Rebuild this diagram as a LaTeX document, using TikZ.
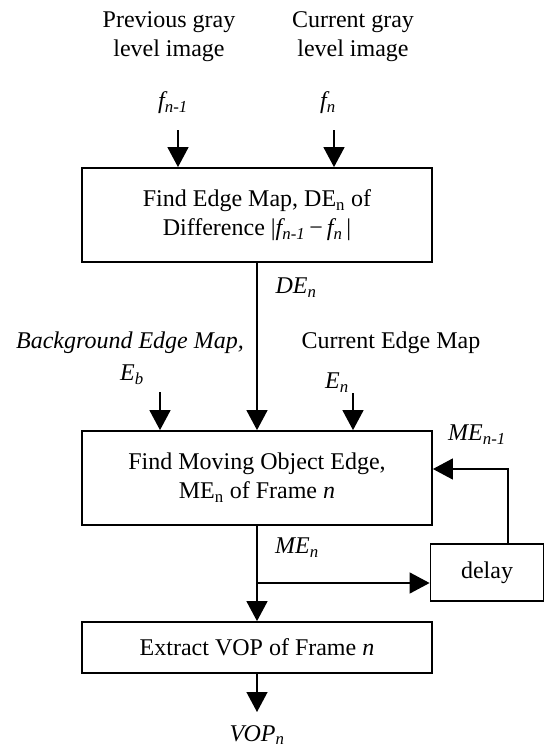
\documentclass[tikz,border=0pt]{standalone}
\usepackage{fontspec}
\setmainfont{Liberation Serif}
\usetikzlibrary{arrows.meta}
\newcommand{\sbs}[1]{\textsubscript{#1}}
\begin{document}
\begin{tikzpicture}[x=1pt,y=-1pt,
  font=\fontsize{24}{29}\selectfont,
  box/.style={draw, line width=1.8pt, inner sep=0pt, align=center},
  lbl/.style={inner sep=0pt, align=center},
  arr/.style={line width=1.4pt, -{Triangle[length=20pt,width=21pt]}},
  ln/.style={line width=1.4pt}]
\useasboundingbox (0,0) rectangle (545,747);
% top labels
\node[lbl] (prev) at (169,37) {Previous gray\\level image};
\node[lbl] (cur) at (353,37) {Current gray\\level image};
\node[lbl] (fprev) at (173,103) {\textit{f\sbs{n-1}}};
\node[lbl] (fcur) at (328,103) {\textit{f\sbs{n}}};
% boxes
\node[box, minimum width=350pt, minimum height=94pt] (b1) at (257,215)
  {Find Edge Map, DE\sbs{n} of\\Difference |\textit{f\sbs{n-1}}\,−\,\textit{f\sbs{n}}\,|};
\node[box, minimum width=350pt, minimum height=94pt] (b2) at (257,478)
  {Find Moving Object Edge,\\ME\sbs{n} of Frame \textit{n}};
\node[box, minimum width=113pt, minimum height=57pt] (dl) at (487,572.5) {delay};
\node[box, minimum width=350pt, minimum height=51pt] (b3) at (257,647.5)
  {Extract VOP of Frame \textit{n}};
% inputs to box 1
\coordinate (s1) at (178,130);
\coordinate (s2) at (334,130);
\draw[arr] (s1) -- (s1 |- b1.north);
\draw[arr] (s2) -- (s2 |- b1.north);
% middle labels
\node[lbl] (den) at (296,288) {\textit{DE\sbs{n}}};
\node[lbl] (bg) at (130,343) {\textit{Background Edge Map,}};
\node[lbl] (eb) at (132,375) {\textit{E\sbs{b}}};
\node[lbl] (cem) at (391,343) {Current Edge Map};
\node[lbl] (en) at (337,383) {\textit{E\sbs{n}}};
% inputs to box 2
\draw[arr] (b1.south) -- (b2.north);
\coordinate (s3) at (160,392);
\coordinate (s4) at (353,393);
\draw[arr] (s3) -- (s3 |- b2.north);
\draw[arr] (s4) -- (s4 |- b2.north);
% feedback
\node[lbl] (men1) at (477,435) {\textit{ME\sbs{n-1}}};
\coordinate (fb) at (508,469);
\draw[arr] (fb |- dl.north) -- (fb) -- (fb -| b2.east);
% branch
\node[lbl] (men) at (297,548) {\textit{ME\sbs{n}}};
\coordinate (br) at (257,583);
\draw[arr] (br) -- (br -| dl.west);
\draw[arr] (b2.south) -- (b3.north);
% output
\coordinate (ot) at (257,712);
\draw[arr] (b3.south) -- (ot);
\node[lbl] (vop) at (257,735) {\textit{VOP\sbs{n}}};
\end{tikzpicture}
\end{document}
